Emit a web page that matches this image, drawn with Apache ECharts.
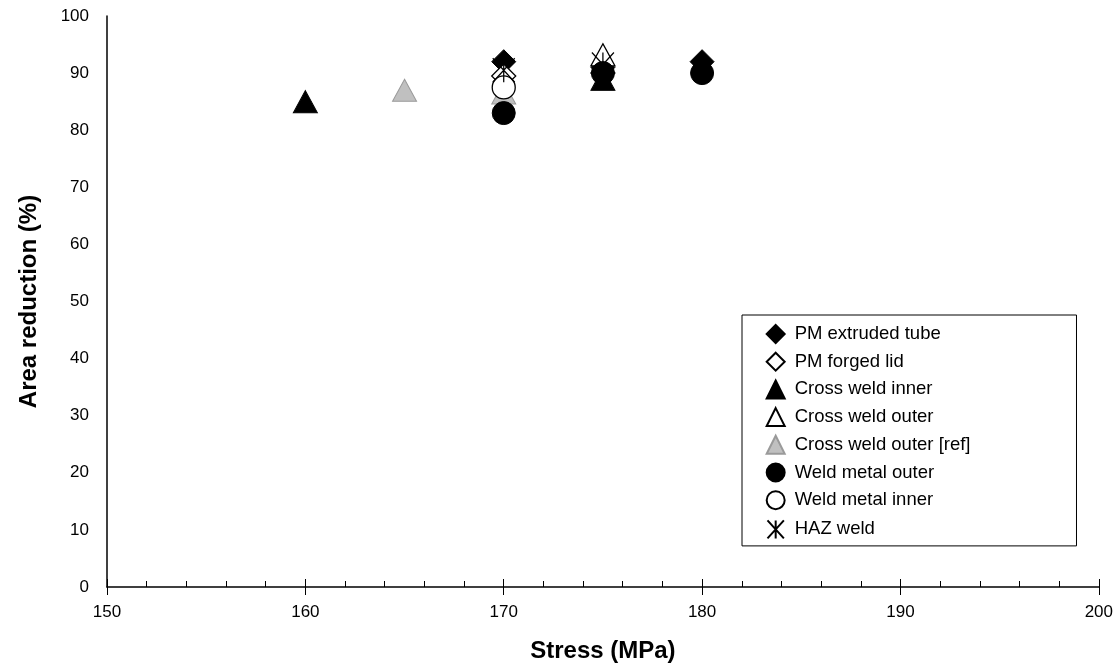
<!DOCTYPE html>
<html>
<head>
<meta charset="utf-8">
<script src="https://cdn.jsdelivr.net/npm/echarts@6/dist/echarts.min.js"></script>
<style>
  html, body { margin: 0; padding: 0; background: #fff; }
  #chart { width: 1116px; height: 668px; }
</style>
</head>
<body>
<div id="chart"></div>
<script>
// Rupture tests: area reduction versus applied stress, one series per specimen type.
const seriesNames = [
  'PM extruded tube',
  'PM forged lid',
  'Cross weld inner',
  'Cross weld outer',
  'Cross weld outer [ref]',
  'Weld metal outer',
  'Weld metal inner',
  'HAZ weld'
];

// [stress (MPa), area reduction (%)]
const pmExtrudedTube    = [[170, 92], [175, 91], [180, 92]];
const pmForgedLid       = [[170, 89.5], [175, 90]];
const crossWeldInner    = [[160, 85], [175, 88.9]];
const crossWeldOuter    = [[175, 93.2]];
const crossWeldOuterRef = [[165, 87], [170, 86.5]];
const weldMetalOuter    = [[170, 83], [175, 90], [180, 90]];
const weldMetalInner    = [[170, 87.5]];
const hazWeld           = [[170, 90.5], [175, 91.5]];

const xTicks = { min: 150, max: 200, major: 10, minor: 2 };
const yTicks = { min: 0, max: 100, step: 10 };

const FONT = '"Liberation Sans", Arial, sans-serif';
const asteriskPath = 'path://M0,0L20,22M20,0L0,22M10,0L10,22';

const styles = [
  { symbol: 'diamond', size: 24, color: '#000', border: '#000', bw: 1 },
  { symbol: 'diamond', size: 24, color: '#fff', border: '#000', bw: 1.3 },
  { symbol: 'triangle', size: [24, 22], color: '#000', border: '#000', bw: 1 },
  { symbol: 'triangle', size: [24, 22], color: '#fff', border: '#000', bw: 1.3 },
  { symbol: 'triangle', size: [24, 22], color: '#c0c0c0', border: '#9a9a9a', bw: 1 },
  { symbol: 'circle', size: 23, color: '#000', border: '#000', bw: 1 },
  { symbol: 'circle', size: 23, color: '#fff', border: '#000', bw: 1.3 },
  { symbol: asteriskPath, size: [22, 24], color: 'none', border: '#000', bw: 1.3 }
];
const datasets = [pmExtrudedTube, pmForgedLid, crossWeldInner, crossWeldOuter,
  crossWeldOuterRef, weldMetalOuter, weldMetalInner, hazWeld];

const chart = echarts.init(document.getElementById('chart'), null, { renderer: 'canvas' });

const baseX = {
  type: 'value', min: xTicks.min, max: xTicks.max,
  splitLine: { show: false }
};

chart.setOption({
  animation: false,
  backgroundColor: '#fff',
  grid: { left: 107, right: 14, top: 16, bottom: 81, containLabel: false },
  legend: {
    orient: 'vertical',
    left: 742, top: 315,
    padding: [9, 106, 5, 23],
    itemWidth: 18, itemHeight: 18, itemGap: 7.7,
    backgroundColor: '#fff',
    borderColor: '#000', borderWidth: 1,
    textStyle: { fontFamily: FONT, fontSize: 18.5, lineHeight: 18, color: '#000', padding: [0, 0, 0, 5] },
    data: seriesNames
  },
  xAxis: [
    Object.assign({}, baseX, {
      interval: xTicks.major,
      name: 'Stress (MPa)', nameLocation: 'middle', nameGap: 52,
      nameTextStyle: { fontFamily: FONT, fontSize: 24, fontWeight: 'bold', color: '#000' },
      axisLine: { onZero: false, lineStyle: { color: '#000', width: 1.5 } },
      axisTick: { show: true, inside: false, length: 8, lineStyle: { color: '#000', width: 1 } },
      axisLabel: { fontFamily: FONT, fontSize: 17, color: '#000', margin: 17 }
    }),
    Object.assign({}, baseX, {
      interval: xTicks.minor, position: 'bottom',
      axisLine: { show: false, onZero: false },
      axisTick: { show: true, inside: true, length: 6, lineStyle: { color: '#000', width: 1 } },
      axisLabel: { show: false }
    }),
    Object.assign({}, baseX, {
      interval: xTicks.major, position: 'bottom',
      axisLine: { show: false, onZero: false },
      axisTick: { show: true, inside: true, length: 8, lineStyle: { color: '#000', width: 1 } },
      axisLabel: { show: false }
    })
  ],
  yAxis: {
    type: 'value', min: yTicks.min, max: yTicks.max, interval: yTicks.step,
    name: 'Area reduction (%)', nameLocation: 'middle', nameGap: 66,
    nameTextStyle: { fontFamily: FONT, fontSize: 24, fontWeight: 'bold', color: '#000' },
    axisLine: { show: true, onZero: false, lineStyle: { color: '#000', width: 1.5 } },
    axisTick: { show: false },
    axisLabel: { fontFamily: FONT, fontSize: 17, color: '#000', margin: 18 },
    splitLine: { show: false }
  },
  series: seriesNames.map((name, i) => ({
    name,
    type: 'scatter',
    xAxisIndex: 0,
    symbol: styles[i].symbol,
    symbolSize: styles[i].size,
    itemStyle: {
      color: styles[i].color,
      borderColor: styles[i].border,
      borderWidth: styles[i].bw,
      opacity: 1
    },
    emphasis: { disabled: true },
    z: 2 + i,
    data: datasets[i]
  }))
});
</script>
</body>
</html>
